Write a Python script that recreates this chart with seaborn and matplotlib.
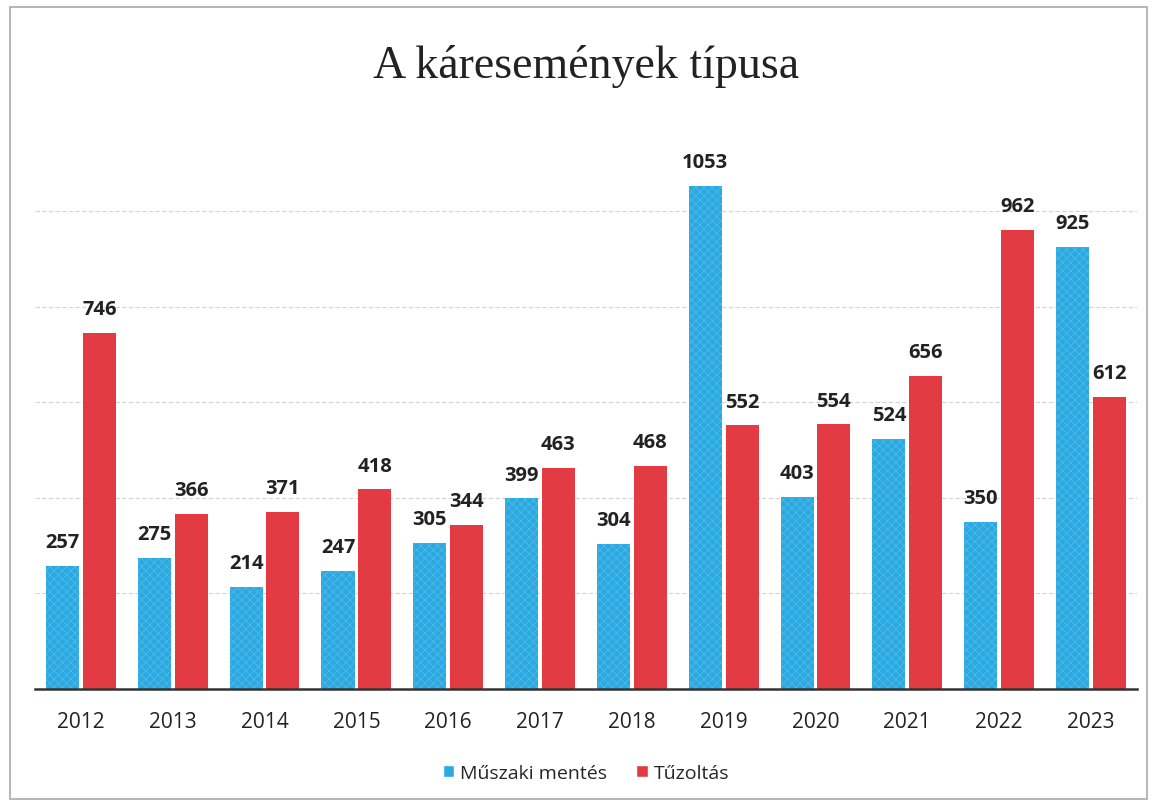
import matplotlib
matplotlib.use("Agg")
import matplotlib.pyplot as plt
import seaborn as sns
import pandas as pd
from matplotlib.patches import Rectangle

years = ["2012", "2013", "2014", "2015", "2016", "2017", "2018", "2019", "2020", "2021", "2022", "2023"]
muszaki = [257, 275, 214, 247, 305, 399, 304, 1053, 403, 524, 350, 925]
tuzoltas = [746, 366, 371, 418, 344, 463, 468, 552, 554, 656, 962, 612]
series = ["Műszaki mentés", "Tűzoltás"]

df = pd.DataFrame({
    "year": years * 2,
    "value": muszaki + tuzoltas,
    "type": [series[0]] * len(years) + [series[1]] * len(years),
})

sns.set_theme(style="white")
plt.rcParams["font.family"] = ["Open Sans", "DejaVu Sans"]
plt.rcParams["hatch.linewidth"] = 0.6

blue = "#2BA9E1"
red = "#E23B43"

fig = plt.figure(figsize=(11.55, 8.04), dpi=100)
ax = fig.add_axes([0.0303, 0.1418, 0.954, 0.7127])

sns.barplot(data=df, x="year", y="value", hue="type", palette=[blue, red],
            width=0.8, gap=0.1, ax=ax, legend=True, saturation=1)

for i, cont in enumerate(ax.containers):
    for p in cont:
        p.set_linewidth(0)
        if i == 0:
            p.set_hatch("xxxx")
            p.set_edgecolor("#4FB9EA")
            p.set_linewidth(0)
    ax.bar_label(cont, padding=10, fontsize=14.5, fontweight="bold", color="#222222")

ax.set_xlim(-0.5, 11.5)
ax.set_ylim(0, 1200)
ax.set_yticks([200, 400, 600, 800, 1000])
ax.set_yticklabels([])
ax.yaxis.grid(True, color="#d4d4d4", linewidth=0.8, linestyle=(0, (4, 2)))
ax.set_axisbelow(True)
ax.set_xlabel("")
ax.set_ylabel("")
ax.tick_params(axis="x", labelsize=15, colors="#222222", length=0, pad=16)
ax.tick_params(axis="y", length=0)
for s in ["top", "right", "left"]:
    ax.spines[s].set_visible(False)
ax.spines["bottom"].set_color("#333333")
ax.spines["bottom"].set_linewidth(1.8)

ax.set_title("A káresemények típusa", fontfamily="Liberation Serif", fontsize=33,
             color="#222222", pad=28)

handles, labels = ax.get_legend_handles_labels()
leg = ax.legend(handles, labels, loc="upper center", bbox_to_anchor=(0.5, -0.1),
                ncol=2, frameon=False, fontsize=14, handlelength=0.6, handleheight=0.6,
                handletextpad=0.3, columnspacing=1.5)

fig.patches.append(Rectangle((0.009, 0.005), 0.984, 0.985, transform=fig.transFigure,
                             fill=False, edgecolor="#aaaaaa", linewidth=1.2))

fig.savefig("out.png", dpi=100)
